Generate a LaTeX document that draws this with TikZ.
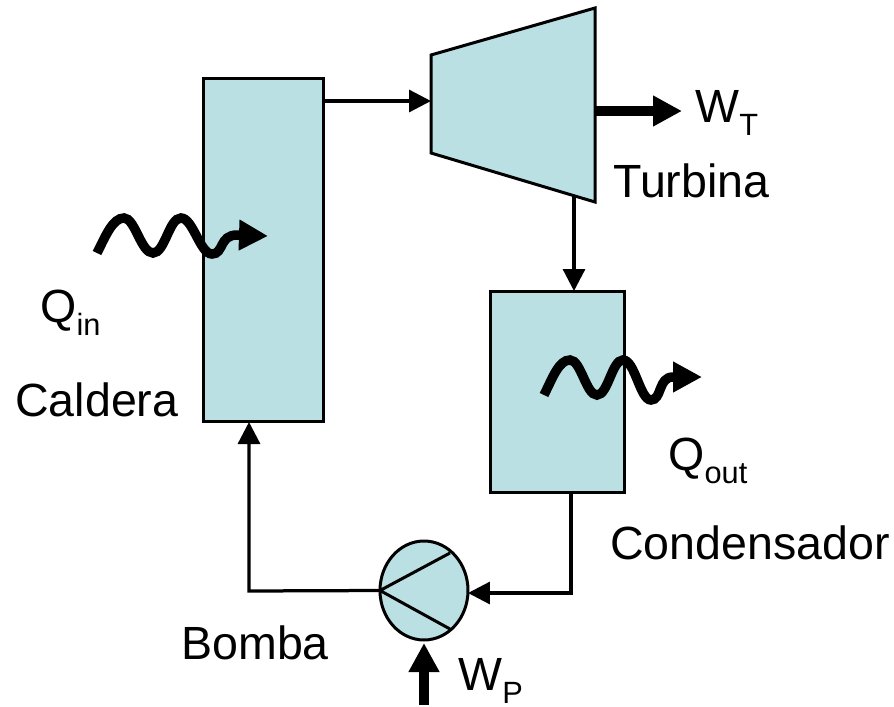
\documentclass[tikz,border=0pt]{standalone}
\usepackage{fontspec}
\setmainfont{Liberation Sans}
\usetikzlibrary{arrows.meta,shapes.geometric}
\definecolor{equipo}{HTML}{BBE0E3}
\newcommand{\lowtext}[1]{\raisebox{-0.28em}{\fontsize{17.5pt}{18pt}\selectfont #1}}
\tikzset{
  unit/.style={draw=black,fill=equipo,line width=0.06cm,outer sep=0pt,inner sep=0pt},
  pipe/.style={draw=black,line width=0.065cm,-{Triangle[length=0.44cm,width=0.44cm]}},
  work/.style={draw=black,line width=0.2cm,-{Triangle[length=0.58cm,width=0.58cm]}},
  heat/.style={draw=black,line width=0.19cm,-{Triangle[length=0.58cm,width=0.58cm]}},
  label/.style={anchor=base west,inner sep=0pt,font=\fontsize{26.5pt}{28pt}\selectfont}
}

\begin{document}
\begin{tikzpicture}[x=0.02cm,y=-0.02cm]
\useasboundingbox (0,0) rectangle (894,707);
\node[unit,minimum width=2.42cm,minimum height=6.88cm] (caldera) at (263.5,250) {};       %caldera
\node[unit,minimum width=2.7cm,minimum height=4.04cm] (condensador) at (557.5,392) {};    %condensador
\node[unit,ellipse,minimum width=1.76cm,minimum height=1.98cm] (bomba) at (424,590.5) {}; %bomba
\coordinate (turbinaA) at (431,55);
\coordinate (turbinaB) at (595,8);
\coordinate (turbinaC) at (595,202);
\coordinate (turbinaD) at (431,153);
\draw[unit,line join=miter] (turbinaA) -- (turbinaB) -- (turbinaC) -- (turbinaD) -- cycle;  %turbina
\coordinate (aspaA) at (450,553);
\coordinate (aspaB) at (450,629);
\draw[line width=0.06cm] (aspaA) -- (bomba.west) -- (aspaB);
%tuberias
\coordinate (salidaCaldera) at (324,101);
\coordinate (entradaTurbina) at (431,101);
\coordinate (salidaTurbina) at (574,196);
\coordinate (entradaCond) at (574,291);
\coordinate (salidaCond) at (571,493);
\coordinate (codoCond) at (571,593);
\coordinate (entradaBomba) at (468,593);
\coordinate (codoCaldera) at (249,591);
\coordinate (entradaCaldera) at (249,422);
\draw[pipe] (salidaCaldera) -- (entradaTurbina);
\draw[pipe] (salidaTurbina) -- (entradaCond);
\draw[pipe] (salidaCond) -- (codoCond) -- (entradaBomba);
\draw[pipe] (bomba.west) -- (codoCaldera) -- (entradaCaldera);
%trabajo
\coordinate (wtIni) at (595,111);
\coordinate (wtFin) at (682,111);
\coordinate (wpIni) at (424,705);
\coordinate (wpFin) at (424,643);
\draw[work] (wtIni) -- (wtFin);
\draw[work] (wpIni) -- (wpFin);
%calor
\coordinate (qinIni) at (97,253);
\coordinate (qinFin) at (268,236);
\coordinate (qoutIni) at (544,395);
\coordinate (qoutFin) at (702,377);
\draw[heat,shift={(qinIni)}] (0,0) .. controls (9,-18) and (16,-35) .. (27,-35) .. controls (38,-35) and (44,0) .. (56,0)
  .. controls (68,0) and (72,-35) .. (84,-35) .. controls (96,-35) and (103,1) .. (115,1)
  .. controls (127,1) and (122,-18) .. (140,-18) -- (qinFin);
\draw[heat,shift={(qoutIni)}] (0,0) .. controls (9,-18) and (15,-35) .. (26,-35) .. controls (37,-35) and (42,0) .. (53,0)
  .. controls (64,0) and (68,-35) .. (79,-35) .. controls (91,-35) and (96,5) .. (107,5)
  .. controls (118,5) and (114,-18) .. (129,-18) -- (qoutFin);
%textos
\node[label] (qin) at (40,322) {Q\lowtext{in}};
\node[label] (caldtxt) at (15,416) {Caldera};
\node[label] (wt) at (695,122) {W\lowtext{T}};
\node[label] (turbtxt) at (613,197) {Turbina};
\node[label] (qout) at (668,470) {Q\lowtext{out}};
\node[label] (condtxt) at (610,559) {Condensador};
\node[label] (bombtxt) at (181,659) {Bomba};
\node[label] (wp) at (458,690) {W\lowtext{P}};
\end{tikzpicture}
\end{document}
